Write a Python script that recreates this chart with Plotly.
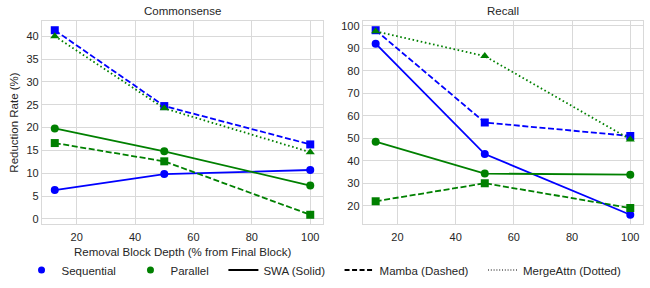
import plotly.graph_objects as go

depth = [12.5, 50, 100]

# Commonsense
cs_seq_swa = [6.3, 9.8, 10.7]
cs_seq_mamba = [41.3, 24.7, 16.3]
cs_par_swa = [19.8, 14.8, 7.3]
cs_par_mamba = [16.6, 12.6, 0.9]
cs_par_merge = [40.0, 24.2, 14.6]

# Recall
rc_seq_swa = [92.0, 43.0, 16.0]
rc_seq_mamba = [98.0, 57.0, 51.0]
rc_par_swa = [48.5, 34.3, 33.8]
rc_par_mamba = [22.0, 30.0, 19.0]
rc_par_merge = [97.5, 86.5, 49.5]

x_ticks = [20, 40, 60, 80, 100]
cs_y_ticks = [0, 5, 10, 15, 20, 25, 30, 35, 40]
rc_y_ticks = [20, 30, 40, 50, 60, 70, 80, 90, 100]

legend_names = ["Sequential", "Parallel", "SWA (Solid)", "Mamba (Dashed)", "MergeAttn (Dotted)"]

BLUE = "#0000ff"
GREEN = "#008000"
DASH = "6px,2.6px"
DOT = "1.6px,2.6px"
FONT = "Liberation Sans, Arial, sans-serif"
GRID = "#d9d9d9"
TXT = "#262626"
PAD = "\u00a0" * 3

fig = go.Figure()

def add(xa, ya, y, color, dash, symbol):
    fig.add_trace(go.Scatter(
        x=depth, y=y, mode="lines+markers", xaxis=xa, yaxis=ya,
        line=dict(color=color, width=1.8, dash=dash),
        marker=dict(color=color, size=8, symbol=symbol),
        showlegend=False, hoverinfo="x+y"))

for xa, ya, d in [("x", "y", [cs_seq_swa, cs_seq_mamba, cs_par_swa, cs_par_mamba, cs_par_merge]),
                  ("x2", "y2", [rc_seq_swa, rc_seq_mamba, rc_par_swa, rc_par_mamba, rc_par_merge])]:
    add(xa, ya, d[0], BLUE, "solid", "circle")
    add(xa, ya, d[1], BLUE, DASH, "square")
    add(xa, ya, d[2], GREEN, "solid", "circle")
    add(xa, ya, d[3], GREEN, DASH, "square")
    add(xa, ya, d[4], GREEN, DOT, "triangle-up")

# legend entries
fig.add_trace(go.Scatter(x=[None], y=[None], mode="markers", name=legend_names[0] + PAD,
                         marker=dict(color=BLUE, size=7, symbol="circle")))
fig.add_trace(go.Scatter(x=[None], y=[None], mode="markers", name=legend_names[1] + PAD,
                         marker=dict(color=GREEN, size=7, symbol="circle")))
fig.add_trace(go.Scatter(x=[None], y=[None], mode="lines", name=legend_names[2] + PAD,
                         line=dict(color="black", width=1.8, dash="solid")))
fig.add_trace(go.Scatter(x=[None], y=[None], mode="lines", name=legend_names[3] + PAD,
                         line=dict(color="black", width=1.8, dash="5px,2.5px")))
fig.add_trace(go.Scatter(x=[None], y=[None], mode="lines", name=legend_names[4],
                         line=dict(color="black", width=1.1, dash="1px,1.8px")))

axcommon = dict(showgrid=True, gridcolor=GRID, gridwidth=1, showline=True, mirror=True,
                linecolor=GRID, linewidth=1.3, ticks="", zeroline=False,
                tickfont=dict(family=FONT, size=11, color=TXT))

fig.update_layout(
    width=650, height=288,
    margin=dict(l=42, r=7, t=21, b=64, autoexpand=False),
    paper_bgcolor="white", plot_bgcolor="white",
    font=dict(family=FONT, color=TXT),
    xaxis=dict(domain=[0, 0.4676], range=[8.125, 104.375], tickvals=x_ticks, anchor="y",
               ticklabelstandoff=3, **axcommon),
    yaxis=dict(domain=[0, 1], range=[-1.12, 43.32], tickvals=cs_y_ticks, anchor="x",
               title=dict(text="Reduction Rate (%)", font=dict(size=11.5, family=FONT, color=TXT), standoff=5),
               **axcommon),
    xaxis2=dict(domain=[0.534, 1], range=[8.125, 104.375], tickvals=x_ticks, anchor="y2",
                ticklabelstandoff=3, **axcommon),
    yaxis2=dict(domain=[0, 1], range=[11.9, 102.1], tickvals=rc_y_ticks, anchor="x2", **axcommon),
    showlegend=True,
    legend=dict(orientation="h", xref="container", x=0.4985, xanchor="center",
                yref="container", y=(288 - 270) / 288, yanchor="middle",
                font=dict(family=FONT, size=11.5, color=TXT), itemwidth=30, tracegroupgap=0,
                bgcolor="rgba(0,0,0,0)"),
    annotations=[
        dict(text="Commonsense", x=0.2338, y=1, xref="paper", yref="paper", xanchor="center",
             yanchor="middle", yshift=10, showarrow=False, font=dict(size=11.5, family=FONT, color=TXT)),
        dict(text="Recall", x=0.767, y=1, xref="paper", yref="paper", xanchor="center",
             yanchor="middle", yshift=10, showarrow=False, font=dict(size=11.5, family=FONT, color=TXT)),
        dict(text="Removal Block Depth (% from Final Block)", x=0.2338, y=-0.138,
             xref="paper", yref="paper", xanchor="center", yanchor="middle", showarrow=False,
             font=dict(size=11.5, family=FONT, color=TXT)),
    ],
)

fig.write_html("out.html", config={"displayModeBar": False},
               post_script="document.body.style.margin='0';document.body.style.padding='0';")
